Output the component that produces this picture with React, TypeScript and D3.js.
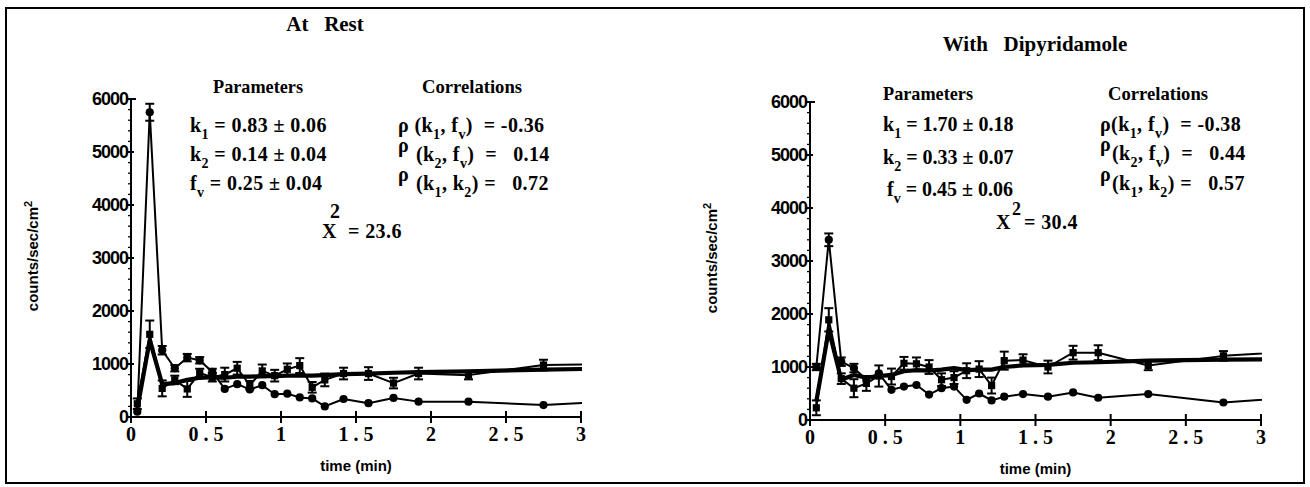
import * as d3 from "d3";

// frame times (min); the last one lies past the axis end and is clipped
const times = [
  0.042, 0.125, 0.208, 0.292, 0.375, 0.458, 0.542, 0.625, 0.708, 0.792, 0.875,
  0.958, 1.042, 1.125, 1.208, 1.292, 1.417, 1.583, 1.75, 1.917, 2.25, 2.75, 3.25,
];

// At rest
const restBlood = [100, 5750, 1260, 920, 1120, 1070, 850, 530, 620, 520, 600, 430, 440, 370, 350, 200, 340, 260, 360, 290, 290, 225, 300];
const restBloodErr = [0, 160, 80, 60, 70, 60, 60, 0, 0, 0, 0, 0, 0, 0, 0, 0, 0, 0, 0, 0, 0, 0, 0];
const restTissue = [250, 1560, 540, 700, 530, 830, 750, 800, 920, 600, 870, 780, 900, 970, 560, 700, 820, 820, 640, 820, 790, 980, 1000];
const restTissueErr = [100, 260, 150, 80, 150, 80, 80, 130, 120, 80, 120, 110, 110, 140, 100, 120, 110, 120, 100, 110, 80, 100, 0];
const restFit = [150, 1450, 620, 640, 700, 740, 750, 740, 760, 760, 770, 770, 780, 780, 780, 790, 810, 820, 835, 845, 860, 895, 915];

// With dipyridamole
const dipBlood = [1000, 3400, 1100, 980, 760, 880, 570, 630, 660, 480, 600, 630, 380, 500, 370, 440, 490, 440, 520, 420, 490, 330, 430];
const dipBloodErr = [60, 120, 80, 80, 0, 0, 0, 0, 0, 0, 0, 0, 0, 0, 0, 0, 0, 0, 0, 0, 0, 0, 0];
const dipTissue = [230, 1890, 780, 600, 690, 830, 820, 1070, 1060, 1000, 760, 800, 930, 960, 650, 1120, 1130, 1000, 1270, 1270, 1030, 1210, 1300];
const dipTissueErr = [140, 220, 100, 170, 140, 200, 150, 120, 120, 130, 120, 120, 140, 150, 150, 170, 110, 120, 130, 140, 90, 90, 0];
const dipFit = [350, 1700, 760, 850, 800, 830, 850, 920, 940, 930, 950, 980, 940, 950, 950, 1000, 1030, 1040, 1080, 1090, 1120, 1140, 1150];

const xTicks = [0, 0.5, 1, 1.5, 2, 2.5, 3];
const xTickLabels = ["0", "0 . 5", "1", "1 . 5", "2", "2 . 5", "3"];
const yTicks = [0, 1000, 2000, 3000, 4000, 5000, 6000];

const SERIF = '"Liberation Serif", "Times New Roman", serif';
const SANS = '"Liberation Sans", Arial, sans-serif';

type Seg = { t: string; sub?: boolean; sup?: boolean };

const Rich = ({ x, y, segs, size = 20, anchor = "start", spacing = 0.4 }: { x: number; y: number; segs: Seg[]; size?: number; anchor?: string; spacing?: number }) => {
  let shift = 0;
  return (
    <text x={x} y={y} fontFamily={SERIF} fontWeight="bold" fontSize={size} textAnchor={anchor} letterSpacing={spacing} style={{ whiteSpace: "pre" }}>
      {segs.map((s, i) => {
        const target = s.sub ? size * 0.36 : s.sup ? -size * 0.45 : 0;
        const dy = target - shift;
        shift = target;
        return (
          <tspan key={i} dy={dy} fontSize={s.sub || s.sup ? size * 0.7 : size}>
            {s.t}
          </tspan>
        );
      })}
    </text>
  );
};

type PanelProps = {
  id: string;
  left: number;
  right: number;
  top: number;
  bottom: number;
  blood: number[];
  bloodErr: number[];
  tissue: number[];
  tissueErr: number[];
  fit: number[];
};

const Panel = (p: PanelProps) => {
  const x = d3.scaleLinear().domain([0, 3]).range([p.left, p.right]);
  const y = d3.scaleLinear().domain([0, 6000]).range([p.bottom, p.top]);
  const line = d3
    .line<number>()
    .x((_, i) => x(times[i]))
    .y((d) => y(d));
  const minor = d3.range(200, 6000, 200).filter((v) => v % 1000 !== 0);
  const clip = `clip-${p.id}`;

  const errBars = (vals: number[], errs: number[]) =>
    vals.map((v, i) =>
      errs[i] > 0 ? (
        <g key={i}>
          <line x1={x(times[i])} x2={x(times[i])} y1={y(v - errs[i])} y2={y(v + errs[i])} />
          <line x1={x(times[i]) - 4.5} x2={x(times[i]) + 4.5} y1={y(v - errs[i])} y2={y(v - errs[i])} />
          <line x1={x(times[i]) - 4.5} x2={x(times[i]) + 4.5} y1={y(v + errs[i])} y2={y(v + errs[i])} />
        </g>
      ) : null
    );

  return (
    <g>
      <defs>
        <clipPath id={clip}>
          <rect x={p.left} y={p.top - 40} width={p.right - p.left + 1} height={p.bottom - p.top + 50} />
        </clipPath>
      </defs>
      <g clipPath={`url(#${clip})`} stroke="#000" fill="none">
        <path d={line(p.fit) ?? ""} strokeWidth={4.2} strokeLinejoin="round" />
        <path d={line(p.tissue) ?? ""} strokeWidth={2} strokeLinejoin="round" />
        <path d={line(p.blood) ?? ""} strokeWidth={2} strokeLinejoin="round" />
        <g strokeWidth={2}>
          {errBars(p.tissue, p.tissueErr)}
          {errBars(p.blood, p.bloodErr)}
        </g>
        <g fill="#000" stroke="none">
          {p.tissue.map((v, i) => (
            <rect key={i} x={x(times[i]) - 3.6} y={y(v) - 3.6} width={7.2} height={7.2} />
          ))}
          {p.blood.map((v, i) => (
            <circle key={i} cx={x(times[i])} cy={y(v)} r={4.1} />
          ))}
        </g>
      </g>

      {/* y axis */}
      <g stroke="#000" strokeWidth={2}>
        <line x1={p.left} x2={p.left} y1={y(0)} y2={y(6000)} />
        {yTicks.map((t) => (
          <line key={t} x1={p.left - 5} x2={p.left + (t === 6000 ? 5 : 3)} y1={y(t)} y2={y(t)} />
        ))}
        {minor.map((t) => (
          <line key={t} x1={p.left - 3} x2={p.left} y1={y(t)} y2={y(t)} strokeWidth={1.3} />
        ))}
      </g>
      {yTicks.map((t) => (
        <text key={t} x={p.left - 3} y={y(t)} dy="0.36em" textAnchor="end" fontFamily={SANS} fontWeight="bold" fontSize={18} letterSpacing={-1}>
          {t}
        </text>
      ))}

      {/* x axis */}
      <g stroke="#000" strokeWidth={2}>
        <line x1={x(0)} x2={x(3)} y1={p.bottom} y2={p.bottom} />
        {xTicks.map((t) => (
          <line key={t} x1={x(t)} x2={x(t)} y1={p.bottom - 6} y2={p.bottom + 6} />
        ))}
      </g>
      {xTicks.map((t, i) => (
        <text key={t} x={x(t)} y={p.bottom + 24} textAnchor="middle" fontFamily={SERIF} fontWeight="bold" fontSize={20} style={{ whiteSpace: "pre" }}>
          {xTickLabels[i]}
        </text>
      ))}
      <text x={(x(0) + x(3)) / 2} y={p.bottom + 54} textAnchor="middle" fontFamily={SANS} fontWeight="bold" fontSize={15}>
        time (min)
      </text>
    </g>
  );
};

const YLabel = ({ x, y }: { x: number; y: number }) => (
  <text transform={`translate(${x},${y}) rotate(-90)`} textAnchor="middle" fontFamily={SANS} fontWeight="bold" fontSize={15}>
    counts/sec/cm<tspan dy={-6} fontSize={11}>2</tspan>
  </text>
);

const corrRow = (a: string, b: string, c: string, tail: string): Seg[] => [
  { t: "(k" },
  { t: a, sub: true },
  { t: ", " + b },
  { t: c, sub: true },
  { t: tail },
];

const Heading = ({ x, y, children, len }: { x: number; y: number; children: string; len: number }) => (
  <text x={x} y={y} textAnchor="middle" fontFamily={SERIF} fontWeight="bold" fontSize={19} textLength={len} lengthAdjust="spacingAndGlyphs">
    {children}
  </text>
);

const App = () => {
  return (
    <svg width={1310} height={487} style={{ position: "absolute", left: 0, top: 0, background: "#fff" }}>
      <rect x={0} y={0} width={1310} height={487} fill="#fff" />
      <rect x={6} y={8} width={1298} height={475} fill="none" stroke="#000" strokeWidth={2} />

      {/* ---------- At rest ---------- */}
      <text x={325} y={31} textAnchor="middle" fontFamily={SERIF} fontWeight="bold" fontSize={21} style={{ whiteSpace: "pre" }}>
        {"At   Rest"}
      </text>
      <Heading x={258} y={93} len={90}>Parameters</Heading>
      <Heading x={472} y={93} len={100}>Correlations</Heading>
      <Rich x={190} y={132} segs={[{ t: "k" }, { t: "1", sub: true }, { t: " = 0.83 ± 0.06" }]} />
      <Rich x={190} y={161} segs={[{ t: "k" }, { t: "2", sub: true }, { t: " = 0.14 ± 0.04" }]} />
      <Rich x={190} y={190} segs={[{ t: "f" }, { t: "v", sub: true }, { t: " = 0.25 ± 0.04" }]} />
      <Rich x={398} y={132} segs={[{ t: "ρ " }, ...corrRow("1", "f", "v", ")  = -0.36")]} />
      <Rich x={398} y={152} segs={[{ t: "ρ" }]} />
      <Rich x={416} y={161} segs={corrRow("2", "f", "v", ")  =   0.14")} />
      <Rich x={398} y={181} segs={[{ t: "ρ" }]} />
      <Rich x={416} y={190} segs={corrRow("1", "k", "2", ") =   0.72")} />
      <Rich x={322} y={238} segs={[{ t: "X" }]} />
      <Rich x={330} y={218} segs={[{ t: "2" }]} />
      <Rich x={348} y={238} segs={[{ t: "= 23.6" }]} />
      <YLabel x={38} y={256} />
      <Panel id="rest" left={131} right={581} top={99} bottom={417} blood={restBlood} bloodErr={restBloodErr} tissue={restTissue} tissueErr={restTissueErr} fit={restFit} />

      {/* ---------- With dipyridamole ---------- */}
      <text x={1035} y={51} textAnchor="middle" fontFamily={SERIF} fontWeight="bold" fontSize={21} style={{ whiteSpace: "pre" }}>
        {"With   Dipyridamole"}
      </text>
      <Heading x={928} y={100} len={90}>Parameters</Heading>
      <Heading x={1158} y={100} len={100}>Correlations</Heading>
      <Rich x={883} y={131} spacing={0} segs={[{ t: "k" }, { t: "1", sub: true }, { t: " = 1.70 ± 0.18" }]} />
      <Rich x={883} y={164} spacing={0} segs={[{ t: "k" }, { t: "2", sub: true }, { t: " = 0.33 ± 0.07" }]} />
      <Rich x={887} y={196} spacing={0} segs={[{ t: "f" }, { t: "v", sub: true }, { t: " = 0.45 ± 0.06" }]} />
      <Rich x={1100} y={131} segs={[{ t: "ρ" }, ...corrRow("1", "f", "v", ")  = -0.38")]} />
      <Rich x={1100} y={151} segs={[{ t: "ρ" }]} />
      <Rich x={1112} y={160} segs={corrRow("2", "f", "v", ")  =   0.44")} />
      <Rich x={1100} y={181} segs={[{ t: "ρ" }]} />
      <Rich x={1112} y={190} segs={corrRow("1", "k", "2", ") =   0.57")} />
      <Rich x={996} y={229} segs={[{ t: "X" }]} />
      <Rich x={1012} y={215} size={18} segs={[{ t: "2" }]} />
      <Rich x={1024} y={229} segs={[{ t: "= 30.4" }]} />
      <YLabel x={717} y={258} />
      <Panel id="dip" left={810} right={1261} top={102} bottom={420} blood={dipBlood} bloodErr={dipBloodErr} tissue={dipTissue} tissueErr={dipTissueErr} fit={dipFit} />
    </svg>
  );
};

export default App;
